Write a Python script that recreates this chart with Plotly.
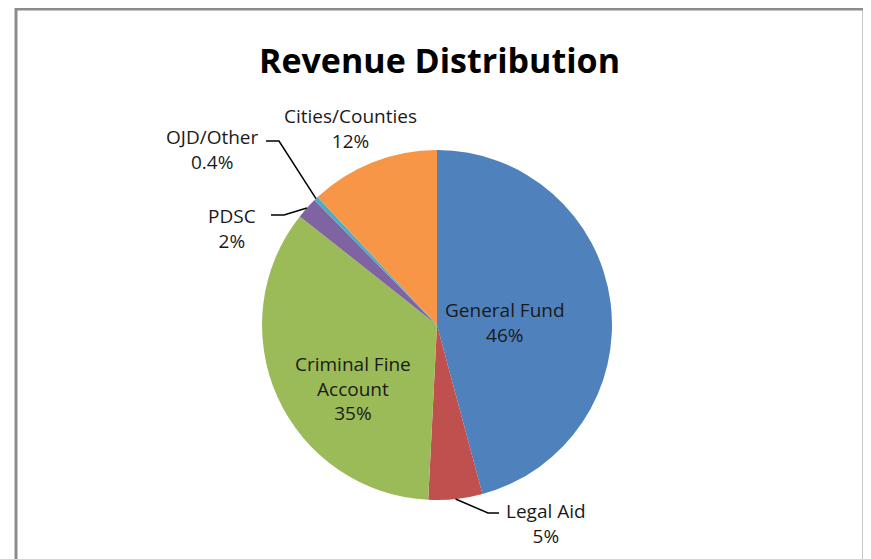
import math
import plotly.graph_objects as go

# data
labels = ["General Fund", "Legal Aid", "Criminal Fine Account", "PDSC", "OJD/Other", "Cities/Counties"]
label_lines = ["General Fund", "Legal Aid", "Criminal Fine<br>Account", "PDSC", "OJD/Other", "Cities/Counties"]
values = [46, 5, 35, 2, 0.4, 12]
pct_text = ["46%", "5%", "35%", "2%", "0.4%", "12%"]
colors = ["#4F81BD", "#C0504D", "#9BBB59", "#8064A2", "#4BACC6", "#F79646"]

W, H = 871, 559
OFF = 8  # page body margin
CX, CY, R = 437, 325, 175  # pie centre / radius in pixels
FONT = "Open Sans"


def px(x, y):
    # page pixel -> paper coords (margins are zero)
    return (x - OFF) / W, 1 - (y - OFF) / H


def edge_point(idx):
    # point on the rim at the slice's mid angle (clockwise from 12 o'clock)
    total = sum(values)
    start = sum(values[:idx]) / total * 360
    mid = math.radians(start + values[idx] / total * 360 / 2)
    return CX + R * math.sin(mid), CY - R * math.cos(mid)


x0, y1 = px(CX - R, CY - R)
x1, y0 = px(CX + R, CY + R)

fig = go.Figure(go.Pie(
    labels=labels,
    values=values,
    sort=False,
    direction="clockwise",
    rotation=0,
    marker=dict(colors=colors, line=dict(width=0)),
    textinfo="none",
    hoverinfo="label+percent",
    showlegend=False,
    domain=dict(x=[x0, x1], y=[y0, y1]),
))

# label placement: (slice index, label pixel pos, elbow pos, line end pos)
placements = [
    (0, (505, 322), None, None),
    (2, (353, 388), None, None),
    (5, (350, 129), None, None),
    (4, (212, 149), (279, 141), (266, 141)),
    (3, (232, 228), (284, 215), (271, 215)),
    (1, (546, 523), (488, 513), (499, 513)),
]

annotations = []
shapes = []
for idx, (lx, ly), elbow, end in placements:
    ax, ay = px(lx, ly)
    annotations.append(dict(
        x=ax, y=ay, xref="paper", yref="paper", showarrow=False,
        xanchor="center", yanchor="middle",
        text=f"{label_lines[idx]}<br>{pct_text[idx]}", align="center",
        font=dict(family=FONT, size=19, color="#1a1a1a"),
    ))
    if elbow is not None:
        ex, ey = edge_point(idx)
        pts = [px(ex, ey), px(*elbow), px(*end)]
        path = "M {} {} L {} {} L {} {}".format(*[c for p in pts for c in p])
        shapes.append(dict(type="path", path=path, xref="paper", yref="paper",
                           line=dict(color="black", width=1.5)))

# title
tx, ty = px(439, 60)
annotations.append(dict(
    x=tx, y=ty, xref="paper", yref="paper", showarrow=False,
    xanchor="center", yanchor="middle",
    text="<b>Revenue Distribution</b>",
    font=dict(family=FONT, size=34, color="black"),
))

# chart area frame (bottom edge runs off the page)
fl, ft = px(16, 9)
fr = px(864, 9)[0]
shapes.append(dict(type="path", xref="paper", yref="paper",
                   path=f"M {fl} -0.05 L {fl} {ft} L {fr} {ft} L {fr} -0.05",
                   line=dict(color="#8c8c8c", width=3)))

fig.update_layout(
    width=W, height=H,
    margin=dict(l=0, r=0, t=0, b=0),
    paper_bgcolor="white",
    plot_bgcolor="white",
    annotations=annotations,
    shapes=shapes,
)

fig.write_html("out.html")
